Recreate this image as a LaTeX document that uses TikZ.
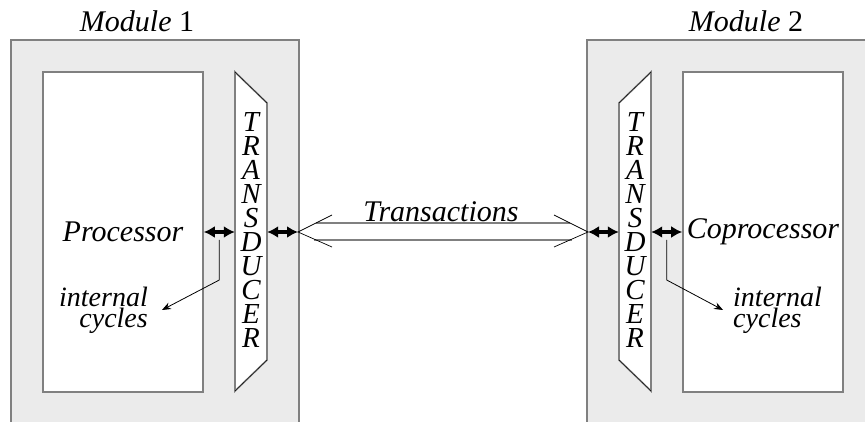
\documentclass[tikz,border=0pt]{standalone}
\usepackage{fontspec}
\setmainfont{Liberation Serif}
\usetikzlibrary{arrows.meta, calc}

\begin{document}
\begin{tikzpicture}[x=1pt, y=-1pt,
  module/.style={draw=gray, line width=1.6pt, fill=black!8},
  unitbox/.style={draw=gray, line width=1.6pt, fill=white, minimum width=160pt, minimum height=320pt, inner sep=0pt},
  itlabel/.style={font=\fontsize{30}{18}\selectfont\itshape},
  smalllabel/.style={font=\fontsize{28}{18}\selectfont\itshape},
  modtitle/.style={font=\fontsize{30}{32}\selectfont},
  tdshape/.style={draw=gray, line width=1.6pt, fill=white},
  tdletters/.style={font=\fontsize{29}{24.1}\selectfont\itshape, align=center, minimum width=32pt, minimum height=319pt, inner sep=0pt},
  link/.style={{Latex[length=11pt,width=12pt]}-{Latex[length=11pt,width=12pt]}, line width=3.4pt},
  thinarrow/.style={-{Stealth[length=9pt,width=7pt]}, line width=0.8pt}]
  \useasboundingbox (0,0) rectangle (865,422);
  \clip (0,0) rectangle (865,422);

  % Modules
  \draw[module] (11,40) rectangle (299,440);
  \draw[module] (587,40) rectangle (900,440);
  \node[modtitle] (mt1) at (137,21) {\textit{Module} 1};
  \node[modtitle] (mt2) at (746,21) {\textit{Module} 2};

  % Processor and coprocessor
  \node[unitbox, itlabel] (proc) at (123,232) {Processor};
  \node[unitbox, itlabel] (cop) at (763,232) {Coprocessor};

  % Transducers
  \draw[tdshape] (235,72) -- (267,103) -- (267,360) -- (235,391) -- cycle;
  \draw (235,72) -- (267,103) (267,360) -- (235,391);
  \draw[tdshape] (651,72) -- (619,103) -- (619,360) -- (651,391) -- cycle;
  \draw (651,72) -- (619,103) (619,360) -- (651,391);
  \node[tdletters] (td1) at (251,230) {T\\R\\A\\N\\S\\D\\U\\C\\E\\R};
  \node[tdletters] (td2) at (635,230) {T\\R\\A\\N\\S\\D\\U\\C\\E\\R};

  % Module edges
  \coordinate (m1e) at (298,232);
  \coordinate (m2w) at (588,232);

  % Links
  \draw[link] (proc.east) -- (td1.west |- proc.east);
  \draw[link] (td1.east |- m1e) -- (m1e);
  \draw[link] (m2w) -- (td2.west |- m2w);
  \draw[link] (td2.east |- cop.west) -- (cop.west);

  % Transactions
  \draw[gray, line width=1.6pt] (316,223) -- (570,223) (314,240) -- (572,240);
  \draw[line width=0.7pt] ([shift={(34,-17)}]m1e) -- (m1e) -- ([shift={(34,15)}]m1e);
  \draw[line width=0.7pt] ([shift={(-34,-17)}]m2w) -- (m2w) -- ([shift={(-34,15)}]m2w);
  \node[itlabel, anchor=base] (tx) at (441,222) {Transactions};

  % Internal cycles
  \node[smalllabel, align=right, anchor=east, inner xsep=14pt] (ic1) at (162,310) {internal\\cycles};
  \node[smalllabel, align=left, anchor=west, inner xsep=10pt] (ic2) at (723,310) {internal\\cycles};
  \draw[thinarrow] ($(proc.east)!0.5!(td1.west |- proc.east)+(0,8)$) -- ++(0,40) -- (ic1.east);
  \draw[thinarrow] ($(td2.east |- cop.west)!0.5!(cop.west)+(0,8)$) -- ++(0,40) -- (ic2.west);
\end{tikzpicture}
\end{document}
